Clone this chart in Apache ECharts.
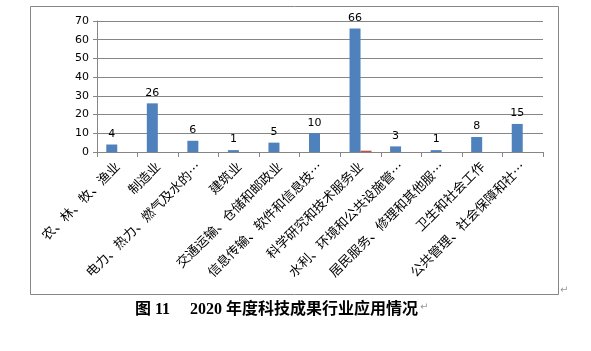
<!DOCTYPE html>
<html>
<head>
<meta charset="utf-8">
<style>
  html, body { margin: 0; padding: 0; background: #fff; }
  #chart { width: 591px; height: 351px; }
</style>
<script src="https://cdn.jsdelivr.net/npm/echarts@6/dist/echarts.min.js"></script>
</head>
<body>
<div id="chart"></div>
<script>
// categories as they are shown (long names cut off with …)
var categories = [
  '农、林、牧、渔业',
  '制造业',
  '电力、热力、燃气及水的…',
  '建筑业',
  '交通运输、仓储和邮政业',
  '信息传输、软件和信息技…',
  '科学研究和技术服务业',
  '水利、环境和公共设施管…',
  '居民服务、修理和其他服…',
  '卫生和社会工作',
  '公共管理、社会保障和社…'
]
var blueValues = [4, 26, 6, 1, 5, 10, 66, 3, 1, 8, 15]
var redValues = [0, 0, 0, 0, 0, 0, 0.7, 0, 0, 0, 0]
var yTicks = [0, 10, 20, 30, 40, 50, 60, 70]

var chart = echarts.init(document.getElementById('chart'))
chart.setOption({
  animation: false,
  title: {
    text: '图 11　 2020 年度科技成果行业应用情况',
    left: 130,
    top: 297,
    textStyle: {
      fontFamily: '"Liberation Serif", "Noto Sans CJK SC"',
      fontSize: 16,
      fontWeight: 'bold',
      color: '#000'
    }
  },
  graphic: [
    {
      type: 'rect',
      shape: { x: 30.5, y: 6.5, width: 528, height: 288 },
      style: { fill: 'none', stroke: '#868686', lineWidth: 1 },
      silent: true
    },
    {
      type: 'text',
      left: 560,
      top: 285,
      style: { text: '↵', fill: '#999', font: '10px "DejaVu Sans"' }
    },
    {
      type: 'text',
      left: 420,
      top: 302,
      style: { text: '↵', fill: '#999', font: '10px "DejaVu Sans"' }
    }
  ],
  grid: {
    left: 97,
    right: 48,
    top: 21,
    bottom: 199
  },
  xAxis: {
    type: 'category',
    data: categories,
    axisLine: { lineStyle: { color: '#868686', width: 1 } },
    axisTick: { show: true, alignWithLabel: false, length: 5, lineStyle: { color: '#868686' } },
    axisLabel: {
      interval: 0,
      rotate: 45,
      margin: 12,
      fontFamily: '"Noto Sans CJK SC"',
      fontSize: 13,
      color: '#000'
    }
  },
  yAxis: {
    type: 'value',
    min: yTicks[0],
    max: yTicks[yTicks.length - 1],
    interval: 10,
    axisLine: { show: true, lineStyle: { color: '#868686', width: 1 } },
    axisTick: { show: true, length: 4, lineStyle: { color: '#868686' } },
    splitLine: { lineStyle: { color: '#868686', width: 1 } },
    axisLabel: {
      margin: 8,
      fontFamily: '"DejaVu Sans"',
      fontSize: 11,
      color: '#000'
    }
  },
  series: [
    {
      type: 'bar',
      data: blueValues,
      barWidth: 11,
      barGap: '0%',
      itemStyle: { color: '#4F81BD' },
      label: {
        show: true,
        position: 'top',
        distance: 5,
        fontFamily: '"DejaVu Sans"',
        fontSize: 11,
        color: '#000'
      }
    },
    {
      type: 'bar',
      data: redValues,
      barWidth: 11,
      barGap: '0%',
      itemStyle: { color: '#C0504D' }
    }
  ]
})
</script>
</body>
</html>
